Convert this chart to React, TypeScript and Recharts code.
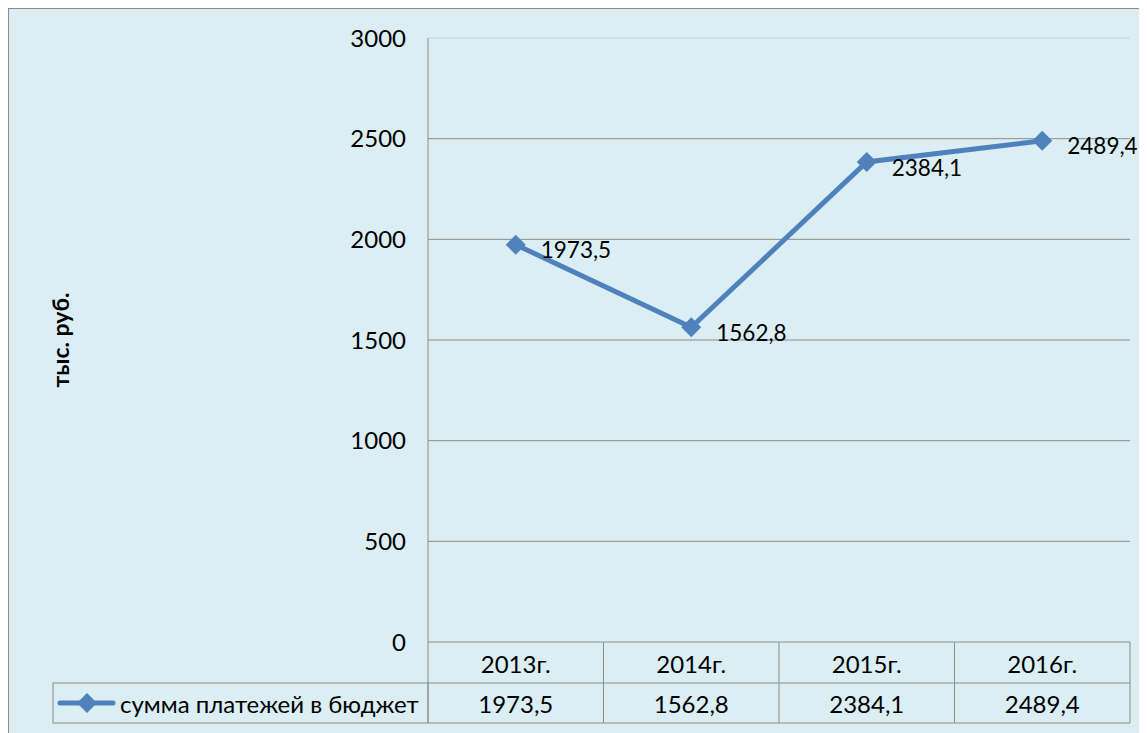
import React from "react";
import { LineChart, Line, XAxis, YAxis, CartesianGrid, LabelList, Label } from "recharts";

const years = ["2013г.", "2014г.", "2015г.", "2016г."];
const payments = [1973.5, 1562.8, 2384.1, 2489.4];
const yTicks = [0, 500, 1000, 1500, 2000, 2500, 3000];
const seriesName = "сумма платежей в бюджет";
const axisTitle = "тыс. руб.";

const data = years.map((year, i) => ({ year, value: payments[i] }));

const W = 1138;
const H = 724;
const PLOT_LEFT = 419;
const PLOT_RIGHT = 1121;
const PLOT_TOP = 29;
const PLOT_BOTTOM = 633;
const BAND = (PLOT_RIGHT - PLOT_LEFT) / years.length;
const ROW1 = 674;
const ROW2 = 714;
const LEGEND_LEFT = 44;

const BLUE = "#4F81BD";
const GRID = "#8c8c8c";
const FONT = "Lato, 'Open Sans', sans-serif";
const FS = 24;

const fmt = (v: number) => v.toFixed(1).replace(".", ",");

function Diamond(props: any) {
  const { cx, cy } = props;
  if (cx == null || cy == null) return null;
  const r = 10;
  return (
    <polygon
      points={`${cx},${cy - r} ${cx + r},${cy} ${cx},${cy + r} ${cx - r},${cy}`}
      fill={BLUE}
    />
  );
}

function GridLine(props: any) {
  const { x1, y1, x2, y2 } = props;
  // the top gridline is drawn much lighter in the original
  const top = Math.abs(y1 - PLOT_TOP) < 1;
  return <line x1={x1} y1={y1} x2={x2} y2={y2} stroke={top ? "#c4d3d8" : GRID} strokeWidth={1} />;
}

function TableTick(props: any) {
  const { x, payload } = props;
  const i = years.indexOf(payload.value);
  const left = x - BAND / 2;
  const right = x + BAND / 2;
  return (
    <g>
      <line x1={left} y1={PLOT_BOTTOM} x2={left} y2={ROW2} stroke={GRID} />
      {i === years.length - 1 && (
        <line x1={right} y1={PLOT_BOTTOM} x2={right} y2={ROW2} stroke={GRID} />
      )}
      <line x1={left} y1={ROW1} x2={right} y2={ROW1} stroke={GRID} />
      <line x1={left} y1={ROW2} x2={right} y2={ROW2} stroke={GRID} />
      <text x={x} y={(PLOT_BOTTOM + ROW1) / 2 + 1} textAnchor="middle" dominantBaseline="central" fontSize={FS} fill="#000">
        {payload.value}
      </text>
      <text x={x} y={(ROW1 + ROW2) / 2} textAnchor="middle" dominantBaseline="central" fontSize={FS} fill="#000">
        {fmt(payments[i])}
      </text>
      {i === 0 && (
        <g>
          <rect x={LEGEND_LEFT} y={ROW1} width={PLOT_LEFT - LEGEND_LEFT} height={ROW2 - ROW1} fill="none" stroke={GRID} />
          <line x1={LEGEND_LEFT + 7} y1={(ROW1 + ROW2) / 2} x2={LEGEND_LEFT + 60} y2={(ROW1 + ROW2) / 2} stroke={BLUE} strokeWidth={5} strokeLinecap="round" />
          <Diamond cx={LEGEND_LEFT + 34} cy={(ROW1 + ROW2) / 2} />
          <text x={LEGEND_LEFT + 67} y={(ROW1 + ROW2) / 2} dominantBaseline="central" fontSize={FS} fill="#000">
            {seriesName}
          </text>
        </g>
      )}
    </g>
  );
}

function ValueLabel(props: any) {
  const { x, y, value } = props;
  return (
    <text x={x + 25} y={y + 5} dominantBaseline="central" fontSize={22.5} fill="#000">
      {fmt(value)}
    </text>
  );
}

export default function App() {
  return (
    <div
      style={{
        width: W + 1,
        height: H + 1,
        background: "#DAEEF3",
        borderLeft: `1px solid ${GRID}`,
        borderTop: `1px solid ${GRID}`,
        boxSizing: "border-box",
        fontFamily: FONT,
      }}
    >
      <LineChart
        width={W}
        height={H}
        data={data}
        margin={{ top: PLOT_TOP, right: W - PLOT_RIGHT, bottom: 0, left: 0 }}
        style={{ fontFamily: FONT, overflow: "visible" }}
      >
        <CartesianGrid vertical={false} horizontal={(p: any) => <GridLine {...p} />} />
        <XAxis
          dataKey="year"
          axisLine={false}
          tickLine={false}
          interval={0}
          height={H - PLOT_BOTTOM}
          padding={{ left: BAND / 2, right: BAND / 2 }}
          tick={<TableTick />}
        />
        <YAxis
          width={PLOT_LEFT}
          domain={[0, 3000]}
          ticks={yTicks}
          interval={0}
          axisLine={{ stroke: GRID }}
          tickLine={false}
          tickMargin={16}
          tick={{ fontSize: FS, fill: "#000" }}
        >
          <Label
            value={axisTitle}
            angle={-90}
            position="insideLeft"
            offset={52}
            style={{ fontSize: 23, fontWeight: 700, fill: "#000", textAnchor: "middle" }}
          />
        </YAxis>
        <Line
          type="linear"
          dataKey="value"
          name={seriesName}
          stroke={BLUE}
          strokeWidth={5}
          dot={<Diamond />}
          activeDot={false}
          isAnimationActive={false}
        >
          <LabelList dataKey="value" content={<ValueLabel />} />
        </Line>
      </LineChart>
    </div>
  );
}
